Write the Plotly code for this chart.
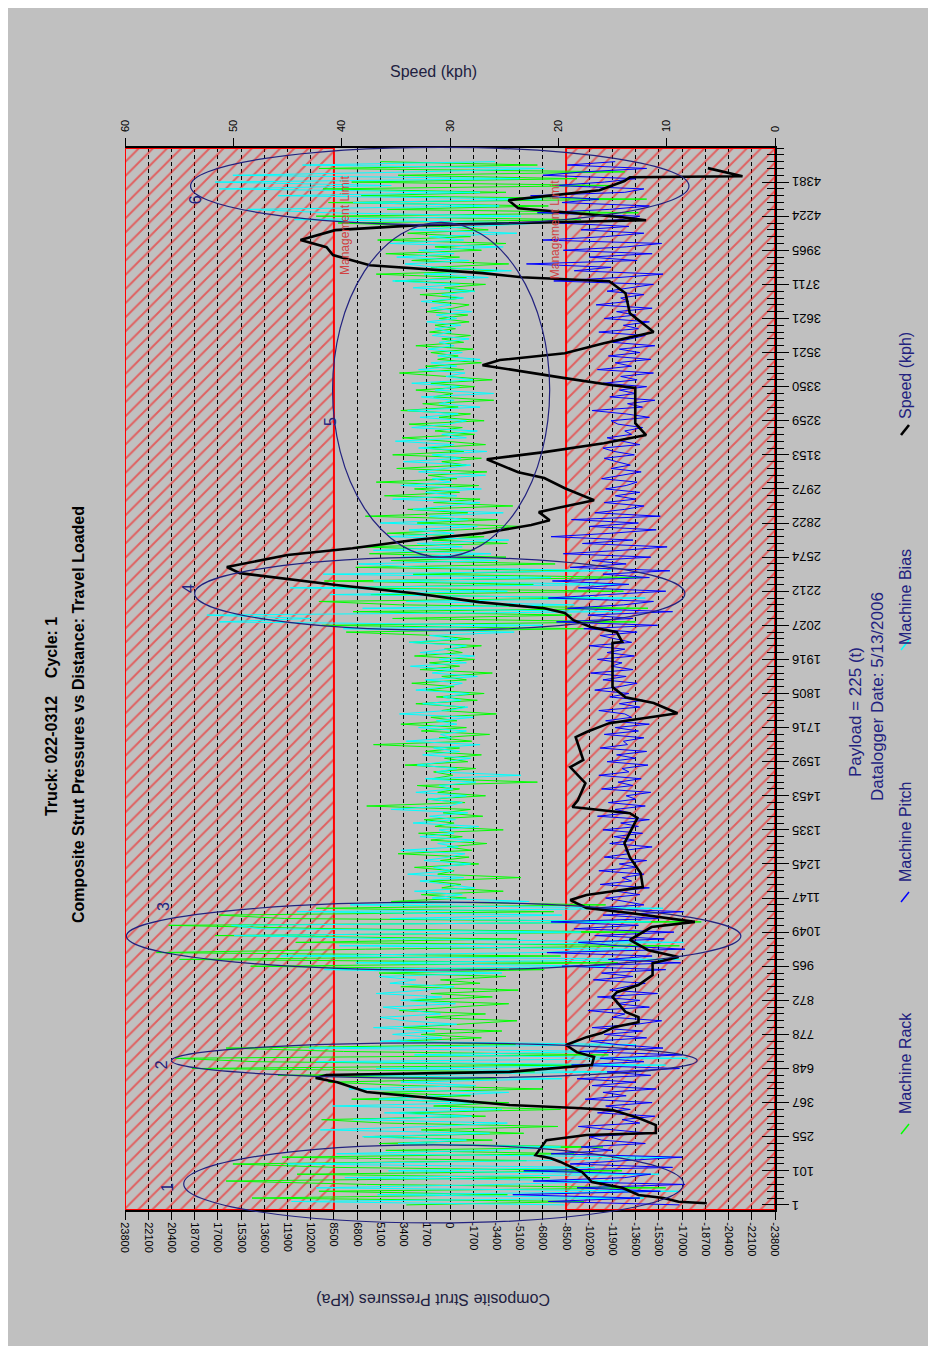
import plotly.graph_objects as go

# ---------------- data ----------------
distance_labels = ["1", "101", "255", "367", "648", "778", "872", "965", "1049", "1147",
                   "1245", "1335", "1453", "1592", "1716", "1805", "1916", "2027", "2212", "2574",
                   "2822", "2972", "3153", "3259", "3350", "3521", "3621", "3711", "3965", "4224", "4381"]
samples_per_label = 10
label_positions = [i * samples_per_label for i in range(len(distance_labels))]

pressure_ticks = [23800, 22100, 20400, 18700, 17000, 15300, 13600, 11900, 10200, 8500, 6800, 5100, 3400, 1700, 0,
                  -1700, -3400, -5100, -6800, -8500, -10200, -11900, -13600, -15300, -17000, -18700, -20400, -22100, -23800]
speed_ticks = [0, 10, 20, 30, 40, 50, 60]
management_limits = [8500, -8500]

speed_pos = [0.5, 0.9, 2.0, 2.9, 5.0, 6.7, 9.6, 12.6, 13.7, 14.6,
             19.0, 20.5, 21.1, 23.4, 25.5, 27.8, 28.4, 29.3, 31.3, 33.1,
             36.0, 37.2, 38.1, 39.0, 41.0, 43.4, 44.8, 46.9, 49.2, 50.4,
             52.2, 53.6, 55.1, 56.6, 61.0, 62.4, 64.5, 67.4, 70.9, 72.7,
             74.7, 77.7, 81.5, 83.0, 85.6, 87.1, 89.4, 90.9, 92.3, 93.2,
             97.3, 102.0, 106.1, 113.5, 114.9, 116.7, 118.7, 123.7, 128.4, 130.5,
             137.2, 138.7, 141.3, 144.2, 147.2, 148.9, 151.9, 157.7, 164.8, 165.1,
             168.0, 169.5, 171.5, 173.6, 175.0, 176.8, 179.4, 181.8, 183.5, 185.3,
             187.1, 190.6, 192.6, 195.0, 197.0, 199.4, 200.8, 203.2, 204.4, 206.7,
             210.2, 213.2, 214.9, 218.7, 220.8, 223.4, 225.8, 229.3, 239.6, 240.4,
             242.5, 243.4, 246.3, 247.8, 249.8, 252.7, 256.0, 261.5, 267.4, 270.9,
             272.1, 273.3, 275.6, 278.6, 280.9, 283.0, 285.9, 287.3, 288.8, 289.7,
             292.3, 294.7, 297.6, 300.3, 301.4, 301.7, 302.9, 304.1]
speed_kph = [6.3, 8.9, 10.3, 12.6, 14.1, 16.9, 17.8, 19.8, 20.7, 22.1,
             21.1, 17.4, 11.0, 11.0, 12.6, 15.0, 18.3, 24.5, 31.5, 37.7,
             40.4, 42.4, 41.4, 24.5, 16.9, 16.7, 18.3, 19.3, 17.4, 16.0,
             14.8, 12.6, 12.6, 13.8, 15.0, 14.6, 12.6, 11.3, 11.3, 8.9,
             11.7, 13.4, 11.4, 7.4, 13.4, 17.4, 18.9, 17.4, 14.3, 12.2,
             12.4, 13.4, 13.9, 12.7, 13.4, 18.7, 18.2, 17.5, 18.9, 17.7,
             18.4, 17.4, 15.3, 9.0, 11.2, 13.8, 15.0, 15.0, 15.0, 14.1,
             14.6, 17.0, 18.6, 19.4, 21.3, 27.3, 33.3, 40.5, 44.6, 49.4,
             50.6, 45.0, 39.0, 33.3, 27.0, 22.5, 20.8, 21.8, 20.1, 16.7,
             19.4, 21.3, 23.7, 26.6, 21.3, 15.8, 11.9, 12.9, 12.9, 15.0,
             19.4, 21.3, 27.0, 25.4, 19.4, 15.8, 11.2, 13.4, 13.8, 15.3,
             23.4, 27.0, 37.4, 40.8, 41.4, 43.8, 40.6, 33.3, 11.9, 14.1,
             23.7, 24.6, 16.2, 13.9, 13.4, 3.0, 4.5, 6.2]

rack_kpa = [3200, -9800, 14500, -4200, 9600, -15800, 6100, 16400, -7300, 11200,
            -12600, 8400, 15900, -5600, 12300, -9100, 4700, -11200, 5200, -3100,
            6300, -5400, 2100, -7900, 4800, 9400, -2600, 3700, -8100, 1200,
            -4300, 7200, -1500, 5600, -6800, 3100, 8900, -3400, 12600, -6200,
            18900, -9400, 14200, 20100, -11600, 7800, 16400, -4800, 3900, -2300,
            2100, -3800, 3400, -1200, -4900, 1800, -2600, 3700, -500, -4300,
            2900, -3100, 1400, -5000, 3600, -2200, 700, -4100, 5200, -6900,
            14600, -12300, 19800, -8100, 21500, 6200, -16800, 11300, -4900, 17200,
            -14200, 8700, 20600, -18400, 12100, 16900, -7600, 9800, -11400, 4300,
            -1200, 2100, -3900, 600, -800, 1500, -5200, 900, -300, 2600,
            -2100, 700, -1400, 3800, -1600, 200, -2700, 1400, -900, 2300,
            -3900, 1100, -300, 1900, -2400, 500, -1500, 6100, -1100, 1700,
            -2600, 900, -700, 2400, -6400, 1300, -200, 1200, -1900, 3300,
            -1300, 400, -2300, 1800, -700, 5600, -1600, 800, -2900, 2100,
            -1200, 3600, -500, 1400, -3400, 600, -1100, 2500, -2000, 1000,
            -2500, 1700, -300, 2800, -1200, 600, -3100, 2200, -700, 1500,
            -1800, 2600, -900, 400, -2300, 3000, -1500, 1100, 7600, -9800,
            9400, -13600, 4200, -8900, 7100, -14500, 3600, 9600, -11200, 5800,
            -12700, 8800, -6100, 9200, -14100, 2700, -9500, 6900, -7700, 4300,
            -4100, 5900, -1800, 6800, -4200, 1300, -2500, 4600, -800, -5300,
            2400, -3500, 6200, -1300, 3100, -4600, 1200, -2200, 4800, -700,
            2600, -2100, 5400, -500, 1600, -2700, 3900, -1200, 600, -2300,
            4200, -1000, 1900, -2600, 300, 3500, -1800, 1100, -900, 3000,
            -2500, 800, -1500, 3600, -600, 2000, -3200, 1200, -200, 2500,
            -1800, 1400, -3100, 500, 3700, -1000, 1800, -2300, 900, -600,
            1400, -1700, 2500, -1000, 600, -1500, 1500, -400, 1100, -1400,
            800, -1300, 1700, -200, -1400, 1300, -900, 2200, -1800, 400,
            -2600, 4000, -1200, 5400, -3400, 1400, -4300, 2800, -700, 4700,
            -2300, 1100, -4100, 5300, -1500, 3100, -2800, 700, 8200, -9600,
            9800, -13800, 4600, -7200, 8900, -14400, 6500, -4100, 9300, -11900,
            7200, -9300, 3800, -12800, 9600, -6400, 5100]

bias_kpa = [-8400, 11600, -14200, 5300, -16700, 9800, -3900, -12400, 7700, -15300,
            4500, -10600, 11900, -6800, -16200, 8300, -2900, -8100, 3800, -1200,
            6400, -2900, 9500, 1300, -4200, 7100, -1600, 4800, -3800, 8600,
            -2500, 5200, 900, -4300, 7400, -1900, 3600, -8200, 6900, -12100,
            5400, -15800, 9800, -17400, 2600, -11500, 10300, -13600, 5100, 600,
            4200, 1100, 5600, -500, 3300, 5100, 700, 2800, 4900, -400,
            3600, 600, 5400, 1800, -300, 4400, 2500, 5200, -3800, 9200,
            -11400, 6900, -16800, 12400, -6200, -13300, 8100, -17100, 3300, 15800,
            -9600, 13900, 16000, -14700, 4400, -8200, 11200, -15600, 7300, -5800,
            1300, -900, 2600, -1800, 400, 2200, -1000, 3100, -200, 1200,
            -1500, 1900, 100, -1100, 3600, -600, 900, -1800, 2200, -300,
            800, -2100, 2700, -400, 1500, -1300, 4300, 100, -900, 1600,
            -1200, 2500, -200, 800, -1900, 1800, -5200, 1000, -500, 2400,
            300, -1500, 2000, -700, 1200, -2200, 3200, -100, 700, -1200,
            2300, -500, 1000, -1700, 3700, 200, -1300, 2000, -800, 500,
            -1400, 2500, 300, -900, 1800, -2000, 1300, -300, 2900, -1200,
            800, -1800, 2200, 100, -1200, 3000, -600, 1500, -4700, 7800,
            -6800, 16900, 10200, 17800, -12600, 6400, -9100, 3200, -14300, 8800,
            -4200, 11700, -13100, 5600, -7400, 9300, -11800, 2100, 6700, -3500,
            3600, -3000, 5600, -900, 2400, -4300, 4500, -300, 3000, -2000,
            5100, -1300, 1500, -3900, 2700, 200, -2200, 4200, -500, 1800,
            -2300, 3600, -100, 1300, -2600, 2300, 300, -1500, 3400, -800,
            1300, -2700, 2300, -300, 4000, -1200, 600, -2000, 2800, 100,
            -1200, 2200, -600, 3100, -2200, 800, -300, 2100, -3200, 1100,
            -700, 2800, -1700, 300, -1100, 2300, -500, 1400, -2200, 900,
            -900, 1600, -300, 800, -1400, 1300, -100, 1100, -800, 1700,
            -500, 1000, -1600, 1400, -100, 2100, -1000, 600, -1800, 2700,
            -700, 4200, -2800, 1900, -4500, 1000, 3300, -1400, 3900, -300,
            2300, -3900, 4400, -1000, 1500, -4900, 2900, -1900, -6800, 11400,
            -5200, 8900, 14800, -3600, 7100, -6700, 12600, -2200, 16900, 4300,
            17200, -5100, 15900, 2400, -6900, 10800, -3300]

pitch_kpa = [-16800, -7200, -13900, -4600, -15400, -9300, -17200, -6100, -12800, -14700,
             -5400, -16300, -8800, -13100, -17000, -7400, -11900, -9600, -14300, -11100,
             -10200, -14600, -11800, -9400, -13900, -12600, -15000, -10800, -13200, -11400,
             -14800, -9900, -12900, -11200, -15100, -10400, -13600, -9300, -14700, -11500,
             -16800, -8900, -14200, -11000, -17000, -9500, -15600, -12300, -10300, -14400,
             -11300, -14100, -10400, -13700, -15500, -11900, -12800, -10100, -14600, -12200,
             -13900, -10800, -15200, -11700, -12900, -14300, -10500, -13400, -11100, -15800,
             -8200, -16900, -11600, -14800, -7100, -17200, -12300, -9400, -15700, -10600,
             -16400, -9100, -13800, -7400, -15300, -11200, -17100, -10100, -14200, -12700,
             -11400, -13900, -12200, -14600, -11000, -13300, -12600, -14200, -10900, -13700,
             -12400, -14400, -11300, -13100, -12800, -14800, -11700, -13500, -12000, -14100,
             -11200, -13800, -12500, -14600, -10800, -13200, -12100, -14300, -11600, -13600,
             -12900, -14700, -11100, -13400, -12300, -14000, -10900, -13100, -12600, -14500,
             -11500, -13600, -12200, -14400, -11000, -13000, -12700, -14200, -11300, -13800,
             -12100, -14600, -11400, -13300, -12800, -10900, -13900, -12400, -14100, -11700,
             -13100, -10600, -12400, -13700, -11200, -12900, -10300, -13400, -11800, -12600,
             -10800, -13500, -11500, -12800, -10200, -13300, -12100, -11000, -13700, -9800,
             -15200, -7800, -13400, -10100, -16300, -8600, -12700, -14900, -7200, -11800,
             -15800, -9400, -13100, -7500, -14600, -11200, -16100, -8800, -12900, -10400,
             -14700, -8300, -12600, -15900, -9700, -13400, -7400, -11800, -15100, -10200,
             -13800, -8900, -15400, -10600, -12800, -14200, -11300, -13600, -12100, -13900,
             -11400, -12900, -13700, -11100, -12500, -14000, -11800, -13200, -12200, -11300,
             -13500, -12000, -11200, -13900, -12600, -11500, -13300, -12800, -14100, -12300,
             -11800, -14600, -12900, -10400, -14100, -13000, -15000, -11700, -13600, -12400,
             -14400, -11200, -13700, -12500, -14900, -10800, -13300, -12100, -14700, -11600,
             -13900, -12400, -15000, -11900, -13200, -14300, -10900, -13800, -12700, -14600,
             -11300, -13600, -12200, -14800, -10700, -13100, -12500, -14200, -11500, -13400,
             -14900, -7600, -12300, -15600, -9100, -11800, -5600, -13700, -10200, -14800,
             -8300, -12900, -15500, -6800, -11400, -14200, -9600, -13100, -7900, -12600,
             -13900, -6400, -11700, -14600, -8200, -10900, -5900, -12800, -14200, -7700,
             -11300, -13600, -6800, -9800, -14400, -8600, -12100]

# (pressure left, pressure right, position bottom, position top)
ellipses = [(19500, -17100, -5.3, 17.6), (20400, -18100, 37.2, 47.5), (23700, -21300, 68.9, 88.8),
            (18700, -17200, 168.6, 190.0), (8600, -7300, 190.0, 288.2), (19000, -17500, 287.5, 310.2)]
ellipse_labels = [("1", 20650, 5.0), ("2", 21160, 41.0), ("3", 20940, 87.4),
                  ("4", 19190, 180.9), ("5", 8790, 229.9), ("6", 18670, 294.7)]

# ---------------- layout helpers ----------------
W, H = 936, 1350
OFF = 8                      # page body margin of the browser
L, T = 117, 140
PW, PH = 650, 1062
R, B = W - L - PW, H - T - PH
Y0, Y1 = -1.5, 310.0
P_MAX = 23800
FONT = "Liberation Sans, Arial, sans-serif"
NAVY = "#22227f"


def px(xs):  # screen x -> paper
    return (xs - OFF - L) / PW


def py(ys):  # screen y -> paper
    return (T + PH - (ys - OFF)) / PH


def pos_paper(v):
    return (v - Y0) / (Y1 - Y0)


fig = go.Figure()

# hatched regions beyond management limits
for lo, hi in [(management_limits[0], P_MAX), (-P_MAX, management_limits[1])]:
    fig.add_trace(go.Scatter(
        x=[hi, lo, lo, hi, hi], y=[Y0, Y0, Y1, Y1, Y0], mode="lines", fill="toself",
        fillcolor="rgba(0,0,0,0)",
        fillpattern=dict(shape="/", fgcolor="#ff0000", bgcolor="rgba(0,0,0,0)", size=10, solidity=0.2),
        line=dict(color="#ff0000", width=2), hoverinfo="skip", showlegend=False))

fig.add_trace(go.Scatter(x=rack_kpa, y=list(range(len(rack_kpa))), mode="lines",
                         line=dict(color="#00ff00", width=1), name="Machine Rack"))
fig.add_trace(go.Scatter(x=bias_kpa, y=list(range(len(bias_kpa))), mode="lines",
                         line=dict(color="#00ffff", width=1), name="Machine Bias"))
fig.add_trace(go.Scatter(x=pitch_kpa, y=list(range(len(pitch_kpa))), mode="lines",
                         line=dict(color="#0000ff", width=1), name="Machine Pitch"))
fig.add_trace(go.Scatter(x=speed_kph, y=speed_pos, xaxis="x2", mode="lines",
                         line=dict(color="black", width=2.6), name="Speed (kph)"))
fig.add_trace(go.Scatter(x=[None], y=[None], yaxis="y2", showlegend=False, hoverinfo="skip"))

shapes = [dict(type="rect", xref="paper", yref="paper", x0=px(0), x1=px(930), y0=py(1346), y1=py(0),
               fillcolor="#c0c0c0", line=dict(width=0), layer="below")]
for x0, x1, y0, y1 in ellipses:
    shapes.append(dict(type="circle", xref="x", yref="paper", x0=x0, x1=x1,
                       y0=pos_paper(y0), y1=pos_paper(y1),
                       line=dict(color=NAVY, width=1.2), layer="above"))

annotations = []
for p, lab in zip(label_positions, distance_labels):
    annotations.append(dict(x=1, xref="paper", xshift=15, xanchor="left", y=p, yref="y", yanchor="middle",
                            text=lab, textangle=180, showarrow=False, font=dict(size=13, color="black")))
for lab, xv, yv in ellipse_labels:
    annotations.append(dict(x=xv, xref="x", y=yv, yref="y", xanchor="center", yanchor="middle",
                            text=lab, textangle=-90, showarrow=False, font=dict(size=16, color=NAVY)))


def note(text, xs, ys, angle, size, color, bold=False):
    return dict(x=px(xs), y=py(ys), xref="paper", yref="paper", xanchor="center", yanchor="middle",
                text=("<b>%s</b>" % text) if bold else text, textangle=angle, showarrow=False,
                font=dict(size=size, color=color))


annotations += [
    dict(x=management_limits[0], xref="x", xanchor="left", xshift=2, y=302.5, yref="y", yanchor="top",
         text="Management Limit", textangle=-90, showarrow=False, font=dict(size=12, color="#d04040")),
    dict(x=management_limits[1], xref="x", xanchor="right", xshift=-2, y=301.0, yref="y", yanchor="top",
         text="Management Limit", textangle=-90, showarrow=False, font=dict(size=12, color="#d04040")),
    note("Truck: 022-0312\u00a0\u00a0\u00a0\u00a0Cycle: 1", 52, 717, -90, 16, "black", bold=True),
    note("Composite Strut Pressures vs Distance: Travel Loaded", 78, 715, -90, 16, "black", bold=True),
    note("Speed (kph)", 433, 72, 0, 16, "#202040"),
    note("Composite Strut Pressures (kPa)", 433, 1300, 180, 16, "#202040"),
    note("Payload = 225 (t)", 855, 712, -90, 17, NAVY),
    note("Datalogger Date: 5/13/2006", 877, 697, -90, 17, NAVY),
]

legend_items = [("Machine Rack", "#00ff00", 1129, 1063, 1.5), ("Machine Pitch", "#0000ff", 897, 832, 1.5),
                ("Machine Bias", "#00ffff", 645, 597, 1.5), ("Speed (kph)", "black", 430, 376, 2.6)]
for name, col, ys, yt, lw in legend_items:
    shapes.append(dict(type="line", xref="paper", yref="paper", x0=px(901), y0=py(ys + 5), x1=px(909), y1=py(ys - 5),
                       line=dict(color=col, width=lw)))
    annotations.append(note(name, 905, yt, -90, 16, NAVY))

fig.update_layout(
    width=W, height=H, margin=dict(l=L, r=R, t=T, b=B, autoexpand=False),
    paper_bgcolor="white", plot_bgcolor="#c0c0c0", showlegend=False, hovermode=False,
    font=dict(family=FONT, color="black"),
    xaxis=dict(range=[P_MAX, -P_MAX], tickmode="array", tickvals=pressure_ticks,
               ticktext=[str(v) for v in pressure_ticks], tickangle=90, ticks="outside", ticklen=8,
               tickcolor="black", tickfont=dict(size=11), showline=True, linecolor="black", linewidth=2,
               showgrid=True, gridcolor="black", gridwidth=1, griddash="4px,3px", zeroline=False),
    xaxis2=dict(overlaying="x", side="top", anchor="y", range=[60, 0], tickmode="array", tickvals=speed_ticks,
                tickangle=-90, ticks="outside", ticklen=8, tickcolor="black", tickfont=dict(size=11),
                ticklabelstandoff=4,
                showline=True, linecolor="black", linewidth=1.5, showgrid=False, zeroline=False),
    yaxis=dict(range=[Y0, Y1], side="right", tickmode="array", tickvals=label_positions, showticklabels=False,
               ticks="outside", ticklen=12, tickcolor="black",
               minor=dict(tickmode="linear", tick0=0, dtick=2, ticks="outside", ticklen=7, tickcolor="black"),
               showline=True, linecolor="black", linewidth=2, showgrid=False, zeroline=False),
    yaxis2=dict(overlaying="y", side="right", anchor="x", range=[Y0, Y1], tickmode="array", tickvals=label_positions,
                showticklabels=False, ticks="inside", ticklen=13, tickcolor="black",
                minor=dict(tickmode="linear", tick0=0, dtick=2, ticks="inside", ticklen=8, tickcolor="black"),
                showline=False, showgrid=False, zeroline=False),
    shapes=shapes, annotations=annotations,
)

fig.write_html("out.html")
